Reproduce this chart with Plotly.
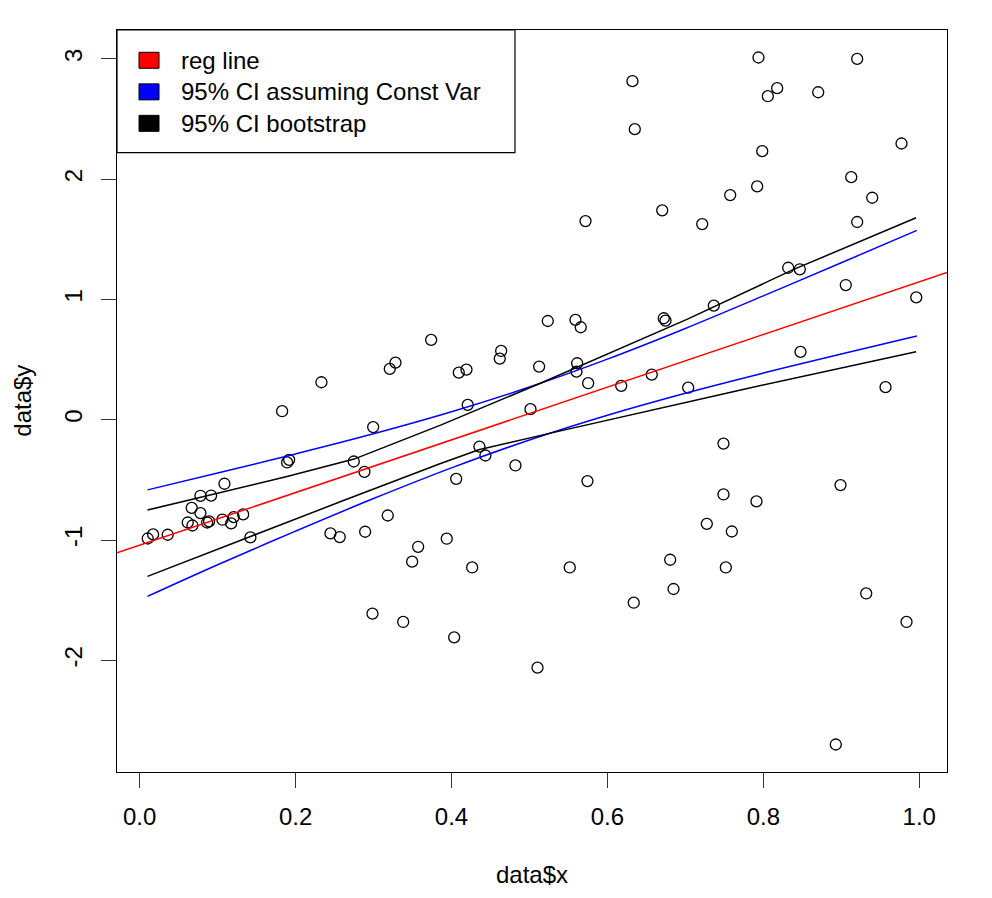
import plotly.graph_objects as go

# ---- data ----
data_x = [0.0103, 0.0172, 0.0359, 0.0616, 0.0676, 0.0667, 0.0779, 0.0779, 0.0865, 0.0890,
          0.0916, 0.1087, 0.1061, 0.1173, 0.1206, 0.1327, 0.1420, 0.1827, 0.1891, 0.1917,
          0.2331, 0.2447, 0.2566, 0.2746, 0.2883, 0.2892, 0.2995, 0.2986, 0.3182, 0.3208,
          0.3281, 0.3380, 0.3495, 0.3572, 0.3739, 0.3939, 0.4034, 0.4060, 0.4093, 0.4192,
          0.4208, 0.4265, 0.4358, 0.4435, 0.4619, 0.4637, 0.4820, 0.5013, 0.5103, 0.5124,
          0.5235, 0.5517, 0.5590, 0.5603, 0.5612, 0.5658, 0.5719, 0.5744, 0.5753, 0.6177,
          0.6338, 0.6569, 0.6723, 0.6745, 0.6805, 0.6848, 0.6321, 0.6351, 0.6703, 0.7036,
          0.7216, 0.7365, 0.7575, 0.7921, 0.7938, 0.7986, 0.8058, 0.8178, 0.8319, 0.8468,
          0.8477, 0.8704, 0.9058, 0.9128, 0.9204, 0.9204, 0.9397, 0.9568, 0.9773, 0.9962,
          0.7275, 0.7489, 0.7489, 0.7519, 0.7596, 0.7912, 0.8930, 0.8990, 0.9320, 0.9837]
data_y = [-0.987, -0.953, -0.956, -0.854, -0.879, -0.732, -0.632, -0.776, -0.854, -0.845,
          -0.630, -0.532, -0.831, -0.862, -0.809, -0.787, -0.978, 0.071, -0.355, -0.333,
          0.312, -0.945, -0.975, -0.347, -0.433, -0.931, -0.061, -1.612, -0.796, 0.423,
          0.475, -1.681, -1.180, -1.056, 0.664, -0.989, -1.809, -0.491, 0.392, 0.417,
          0.124, -1.228, -0.223, -0.297, 0.508, 0.572, -0.380, 0.088, -2.061, 0.442,
          0.821, -1.228, 0.830, 0.400, 0.470, 0.769, 1.652, -0.510, 0.304, 0.282,
          -1.521, 0.375, 0.844, 0.824, -1.164, -1.407, 2.815, 2.416, 1.741, 0.267,
          1.627, 0.949, 1.868, 1.940, 3.012, 2.233, 2.690, 2.757, 1.264, 1.251,
          0.564, 2.723, 1.120, 2.017, 3.000, 1.644, 1.846, 0.271, 2.297, 1.018,
          -0.865, -0.198, -0.621, -1.228, -0.929, -0.679, -2.700, -0.543, -1.444, -1.681]

# regression line (intercept, slope)
reg_intercept = -1.043
reg_slope = 2.19

# 95% CI assuming constant variance
ci_x = [0.010, 0.100, 0.200, 0.300, 0.400, 0.500, 0.600, 0.700, 0.800, 0.900, 0.997]
ci_upper = [-0.583, -0.443, -0.284, -0.117, 0.066, 0.272, 0.504, 0.759, 1.030, 1.305, 1.575]
ci_lower = [-1.468, -1.205, -0.926, -0.655, -0.400, -0.168, 0.038, 0.221, 0.388, 0.547, 0.697]

# 95% CI bootstrap
boot_up_x = [0.010, 0.129, 0.189, 0.275, 0.386, 0.514, 0.591, 0.702, 0.839, 0.996]
boot_upper = [-0.751, -0.565, -0.472, -0.327, -0.045, 0.304, 0.520, 0.835, 1.250, 1.679]
boot_lo_x = [0.010, 0.142, 0.258, 0.386, 0.435, 0.527, 0.642, 0.771, 0.996]
boot_lower = [-1.302, -0.970, -0.680, -0.363, -0.250, -0.111, 0.060, 0.248, 0.566]

legend_labels = ["reg line", "95% CI assuming Const Var", "95% CI bootstrap"]
legend_colors = ["#FF0000", "#0000FF", "#000000"]

x_ticks = [0.0, 0.2, 0.4, 0.6, 0.8, 1.0]
x_tick_text = ["0.0", "0.2", "0.4", "0.6", "0.8", "1.0"]
y_ticks = [-2, -1, 0, 1, 2, 3]
y_tick_text = ["-2", "-1", "0", "1", "2", "3"]

# ---- R-style axis ranges (4% extension) ----
xmin, xmax = min(data_x), max(data_x)
ymin, ymax = min(data_y), max(data_y)
xpad = 0.04 * (xmax - xmin)
ypad = 0.04 * (ymax - ymin)
x_range = [xmin - xpad, xmax + xpad]
y_range = [ymin - ypad, ymax + ypad]

FONT = "Liberation Sans, Arial, Helvetica, sans-serif"
FS = 24

# page offset (default body margin of the html page)
OFF = 8
FIG_W, FIG_H = 992, 898
# target plot box in screenshot pixels
PL, PR, PT, PB = 117.3, 946.7, 30.0, 772.5
W, H = PR - PL, PB - PT
m_l = PL - OFF
m_t = PT - OFF
m_r = FIG_W - m_l - W
m_b = FIG_H - m_t - H

fig = go.Figure()

fig.add_trace(go.Scatter(
    x=data_x, y=data_y, mode="markers",
    marker=dict(symbol="circle-open", size=11, color="#000000", line=dict(width=1.3, color="#000000")),
    showlegend=False, hoverinfo="skip"))

fig.add_trace(go.Scatter(
    x=x_range, y=[reg_intercept + reg_slope * v for v in x_range], mode="lines",
    line=dict(color="#FF0000", width=1.5), showlegend=False))

for yy in (ci_upper, ci_lower):
    fig.add_trace(go.Scatter(x=ci_x, y=yy, mode="lines", line=dict(color="#0000FF", width=1.5, shape="spline"),
                             showlegend=False))

fig.add_trace(go.Scatter(x=boot_up_x, y=boot_upper, mode="lines", line=dict(color="#000000", width=1.5),
                         showlegend=False))
fig.add_trace(go.Scatter(x=boot_lo_x, y=boot_lower, mode="lines", line=dict(color="#000000", width=1.5),
                         showlegend=False))


def dx(px):
    return (px - PL) / W


def dy(py):
    return (PB - py) / H


shapes = [dict(type="rect", xref="x domain", yref="y domain",
               x0=dx(117.3), x1=dx(515), y0=dy(152.7), y1=dy(30),
               line=dict(color="#000000", width=1.2), fillcolor="white", layer="above")]
annotations = []
row_centers = [60.3, 91.9, 123.4]
for lab, col, cy in zip(legend_labels, legend_colors, row_centers):
    shapes.append(dict(type="rect", xref="x domain", yref="y domain",
                       x0=dx(139.3), x1=dx(159.3), y0=dy(cy + 8), y1=dy(cy - 8),
                       line=dict(color="#000000", width=1), fillcolor=col, layer="above"))
    annotations.append(dict(xref="x domain", yref="y domain", x=dx(179.5), y=dy(cy),
                            text=lab, showarrow=False, xanchor="left", yanchor="middle",
                            font=dict(family=FONT, size=FS, color="#000000")))

annotations.append(dict(xref="paper", yref="paper", x=0.5, y=0, xanchor="center", yanchor="middle",
                        yshift=-(875 - PB), text="data$x", showarrow=False,
                        font=dict(family=FONT, size=FS, color="#000000")))
annotations.append(dict(xref="paper", yref="paper", x=0, y=0.5, xanchor="center", yanchor="middle",
                        xshift=-(PL - 22), textangle=-90, text="data$y", showarrow=False,
                        font=dict(family=FONT, size=FS, color="#000000")))

fig.update_layout(
    width=FIG_W, height=FIG_H,
    margin=dict(l=m_l, r=m_r, t=m_t, b=m_b, pad=0),
    paper_bgcolor="white", plot_bgcolor="white",
    font=dict(family=FONT, size=FS, color="#000000"),
    shapes=shapes, annotations=annotations,
    showlegend=False,
    xaxis=dict(range=x_range, tickmode="array", tickvals=x_ticks, ticktext=x_tick_text,
               showgrid=False, zeroline=False, showline=True, mirror=True, linecolor="#000000",
               linewidth=1.2, ticks="outside", ticklen=15, tickwidth=1.2, tickcolor="#333333",
               ticklabelstandoff=8,
               tickfont=dict(family=FONT, size=FS, color="#000000")),
    yaxis=dict(range=y_range, tickmode="array", tickvals=y_ticks, ticktext=y_tick_text,
               showgrid=False, zeroline=False, showline=True, mirror=True, linecolor="#000000",
               linewidth=1.2, ticks="outside", ticklen=15, tickwidth=1.2, tickcolor="#333333",
               tickangle=-90, ticklabelstandoff=9,
               tickfont=dict(family=FONT, size=FS, color="#000000")),
)

fig.write_html("out.html")
